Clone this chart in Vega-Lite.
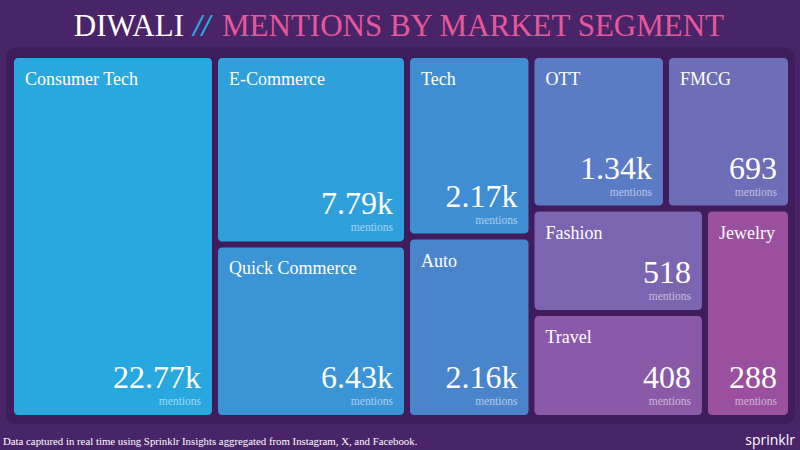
{
  "$schema": "https://vega.github.io/schema/vega-lite/v6.json",
  "autosize": {"type": "none"},
  "width": 780,
  "height": 363,
  "padding": {"left": 11, "top": 55, "right": 9, "bottom": 32},
  "background": "#4a2468",
  "config": {"view": {"stroke": null}, "axis": {"disable": true}},
  "data": {
    "values": [
      {"segment": "Consumer Tech", "mentions": 22770, "x0": 0, "x1": 0.2615, "y0": 0, "y1": 1},
      {"segment": "E-Commerce", "mentions": 7790, "x0": 0.2615, "x1": 0.5077, "y0": 0, "y1": 0.522},
      {"segment": "Quick Commerce", "mentions": 6430, "x0": 0.2615, "x1": 0.5077, "y0": 0.522, "y1": 1},
      {"segment": "Tech", "mentions": 2170, "x0": 0.5077, "x1": 0.6673, "y0": 0, "y1": 0.5},
      {"segment": "Auto", "mentions": 2160, "x0": 0.5077, "x1": 0.6673, "y0": 0.5, "y1": 1},
      {"segment": "OTT", "mentions": 1340, "x0": 0.6673, "x1": 0.8397, "y0": 0, "y1": 0.4229},
      {"segment": "FMCG", "mentions": 693, "x0": 0.8397, "x1": 1, "y0": 0, "y1": 0.4229},
      {"segment": "Fashion", "mentions": 518, "x0": 0.6673, "x1": 0.8897, "y0": 0.4229, "y1": 0.7107},
      {"segment": "Travel", "mentions": 408, "x0": 0.6673, "x1": 0.8897, "y0": 0.7107, "y1": 1},
      {"segment": "Jewelry", "mentions": 288, "x0": 0.8897, "x1": 1, "y0": 0.4229, "y1": 1}
    ]
  },
  "layer": [
    {
      "data": {"values": [{}]},
      "mark": {"type": "rect", "color": "#3f1c5b", "cornerRadius": 10},
      "encoding": {
        "x": {"datum": -0.0064, "type": "quantitative", "scale": {"domain": [0, 1], "nice": false, "zero": false}, "axis": null},
        "x2": {"datum": 1.0051},
        "y": {"datum": -0.0207, "type": "quantitative", "scale": {"domain": [0, 1], "nice": false, "zero": false, "reverse": true}, "axis": null},
        "y2": {"datum": 1.0165}
      }
    },
    {
      "mark": {"type": "rect", "cornerRadius": 4, "xOffset": 3, "x2Offset": -3, "yOffset": 3, "y2Offset": -3},
      "encoding": {
        "x": {"field": "x0", "type": "quantitative", "axis": null},
        "x2": {"field": "x1"},
        "y": {"field": "y0", "type": "quantitative", "axis": null},
        "y2": {"field": "y1"},
        "color": {
          "field": "segment",
          "type": "nominal",
          "legend": null,
          "scale": {
            "domain": ["Consumer Tech", "E-Commerce", "Quick Commerce", "Tech", "Auto", "OTT", "FMCG", "Fashion", "Travel", "Jewelry"],
            "range": ["#29a8e0", "#2fa0dc", "#3a94d6", "#3f8dd2", "#4a85cb", "#5b7cc4", "#6e6db7", "#7b64b0", "#8a5aa8", "#9a4f9f"]
          }
        }
      }
    },
    {
      "mark": {"type": "text", "align": "left", "baseline": "alphabetic", "xOffset": 14, "yOffset": 30, "font": "Liberation Serif", "fontSize": 18, "color": "#ffffff"},
      "encoding": {
        "x": {"field": "x0", "type": "quantitative", "axis": null},
        "y": {"field": "y0", "type": "quantitative", "axis": null},
        "text": {"field": "segment"}
      }
    },
    {
      "mark": {"type": "text", "align": "right", "baseline": "alphabetic", "xOffset": -14, "yOffset": -30, "font": "Liberation Serif", "fontSize": 32, "color": "#ffffff"},
      "encoding": {
        "x": {"field": "x1", "type": "quantitative", "axis": null},
        "y": {"field": "y1", "type": "quantitative", "axis": null},
        "text": {"field": "mentions", "type": "quantitative", "format": ".4~s"}
      }
    },
    {
      "mark": {"type": "text", "align": "right", "baseline": "alphabetic", "xOffset": -14, "yOffset": -13, "font": "Liberation Serif", "fontSize": 11.5, "color": "#ffffff", "opacity": 0.55, "text": "mentions"},
      "encoding": {
        "x": {"field": "x1", "type": "quantitative", "axis": null},
        "y": {"field": "y1", "type": "quantitative", "axis": null}
      }
    },
    {
      "data": {"values": [{}]},
      "mark": {"type": "text", "align": "right", "baseline": "alphabetic", "font": "Liberation Serif", "fontSize": 31, "color": "#ffffff", "text": "DIWALI"},
      "encoding": {
        "x": {"datum": 0.2218, "type": "quantitative", "axis": null},
        "y": {"datum": -0.0523, "type": "quantitative", "axis": null}
      }
    },
    {
      "data": {"values": [{}]},
      "mark": {"type": "text", "align": "center", "baseline": "alphabetic", "font": "Liberation Serif", "fontSize": 31, "fontStyle": "italic", "fontWeight": "bold", "color": "#29abe2", "text": "//"},
      "encoding": {
        "x": {"datum": 0.2449, "type": "quantitative", "axis": null},
        "y": {"datum": -0.0523, "type": "quantitative", "axis": null}
      }
    },
    {
      "data": {"values": [{}]},
      "mark": {"type": "text", "align": "left", "baseline": "alphabetic", "font": "Liberation Serif", "fontSize": 31, "color": "#e6589b", "text": "MENTIONS BY MARKET SEGMENT"},
      "encoding": {
        "x": {"datum": 0.2705, "type": "quantitative", "axis": null},
        "y": {"datum": -0.0523, "type": "quantitative", "axis": null}
      }
    },
    {
      "data": {"values": [{}]},
      "mark": {"type": "text", "align": "left", "baseline": "alphabetic", "font": "Liberation Serif", "fontSize": 10.8, "color": "#ffffff", "text": "Data captured in real time using Sprinklr Insights aggregated from Instagram, X, and Facebook."},
      "encoding": {
        "x": {"datum": -0.0103, "type": "quantitative", "axis": null},
        "y": {"datum": 1.0744, "type": "quantitative", "axis": null}
      }
    },
    {
      "data": {"values": [{}]},
      "mark": {"type": "text", "align": "right", "baseline": "alphabetic", "font": "Open Sans", "fontSize": 14, "color": "#ffffff", "text": "sprinklr"},
      "encoding": {
        "x": {"datum": 1.0051, "type": "quantitative", "axis": null},
        "y": {"datum": 1.0744, "type": "quantitative", "axis": null}
      }
    }
  ]
}
